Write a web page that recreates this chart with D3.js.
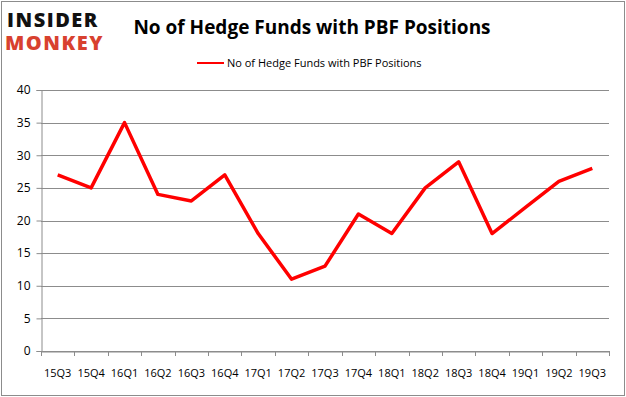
<!DOCTYPE html>
<html>
<head>
  <script src="https://d3js.org/d3.v7.min.js"></script>
  <style>
    body { margin: 0; background: #fff; }
    text { font-family: "Open Sans", "DejaVu Sans", sans-serif; }
  </style>
</head>
<body>
  <div id="chart"></div>
  <script>
    var quarters = ["15Q3", "15Q4", "16Q1", "16Q2", "16Q3", "16Q4", "17Q1", "17Q2", "17Q3",
                    "17Q4", "18Q1", "18Q2", "18Q3", "18Q4", "19Q1", "19Q2", "19Q3"];
    var funds = [27, 25, 35, 24, 23, 27, 18, 11, 13, 21, 18, 25, 29, 18, 22, 26, 28];
    var yTicks = [0, 5, 10, 15, 20, 25, 30, 35, 40];
    var seriesName = "No of Hedge Funds with PBF Positions";

    var w = 626, h = 397;
    var plotLeft = 41, plotRight = 609, plotTop = 90, plotBottom = 351;

    var svg = d3.select("#chart").append("svg")
      .attr("width", w)
      .attr("height", h);

    // outer frame
    svg.append("rect")
      .attr("x", 1.5).attr("y", 1.5)
      .attr("width", w - 3).attr("height", h - 3)
      .attr("fill", "none")
      .attr("stroke", "#8c8c8c")
      .attr("stroke-width", 1);

    // logo
    svg.append("text")
      .attr("x", 7).attr("y", 27)
      .attr("font-size", 20).attr("font-weight", "900")
      .attr("letter-spacing", 1.5)
      .attr("fill", "#111")
      .text("INSIDER");
    svg.append("text")
      .attr("x", 5).attr("y", 50)
      .attr("font-size", 20).attr("font-weight", "900")
      .attr("letter-spacing", 1.5)
      .attr("fill", "#d8412f")
      .text("MONKEY");

    // title
    svg.append("text")
      .attr("x", 312).attr("y", 34)
      .attr("text-anchor", "middle")
      .attr("font-size", 19).attr("font-weight", "bold")
      .attr("fill", "#000")
      .text(seriesName);

    // legend
    svg.append("line")
      .attr("x1", 197).attr("x2", 224)
      .attr("y1", 63).attr("y2", 63)
      .attr("stroke", "#ff0000").attr("stroke-width", 2);
    svg.append("text")
      .attr("x", 227).attr("y", 67)
      .attr("font-size", 11)
      .attr("fill", "#000")
      .text(seriesName);

    var xScale = d3.scaleBand().domain(quarters).range([plotLeft, plotRight]);
    var yScale = d3.scaleLinear().domain([0, 40]).range([plotBottom, plotTop]);

    // grid
    svg.selectAll(".grid").data(yTicks).enter().append("line")
      .attr("class", "grid")
      .attr("x1", plotLeft).attr("x2", plotRight)
      .attr("y1", d => Math.round(yScale(d)) + 0.5)
      .attr("y2", d => Math.round(yScale(d)) + 0.5)
      .attr("stroke", "#8c8c8c").attr("stroke-width", 1);

    // y axis
    var yAxis = svg.append("g")
      .attr("transform", `translate(${plotLeft + 0.5},0)`)
      .call(d3.axisLeft(yScale).tickValues(yTicks).tickSize(5).tickPadding(6));
    yAxis.select(".domain").attr("stroke", "#8c8c8c");
    yAxis.selectAll(".tick line").attr("stroke", "#8c8c8c");
    yAxis.selectAll("text").attr("font-size", 12).attr("fill", "#000")
      .style("font-family", "'Open Sans', sans-serif");

    // x axis
    var xAxis = svg.append("g")
      .attr("transform", `translate(0,${plotBottom + 0.5})`)
      .call(d3.axisBottom(xScale).tickSize(0).tickPadding(18));
    xAxis.select(".domain").attr("stroke", "#8c8c8c");
    xAxis.selectAll("text").attr("font-size", 11).attr("fill", "#000")
      .style("font-family", "'Open Sans', sans-serif");
    var xTickPos = quarters.map(q => xScale(q)).concat([plotRight]);
    svg.selectAll(".xtick").data(xTickPos).enter().append("line")
      .attr("class", "xtick")
      .attr("x1", d => Math.round(d) + 0.5).attr("x2", d => Math.round(d) + 0.5)
      .attr("y1", plotBottom).attr("y2", plotBottom + 5)
      .attr("stroke", "#8c8c8c");

    // series line
    var line = d3.line()
      .x((d, i) => xScale(quarters[i]) + xScale.bandwidth() / 2)
      .y(d => yScale(d));
    svg.append("path")
      .datum(funds)
      .attr("d", line)
      .attr("fill", "none")
      .attr("stroke", "#ff0000")
      .attr("stroke-width", 3.5)
      .attr("stroke-linejoin", "round");
  </script>
</body>
</html>
